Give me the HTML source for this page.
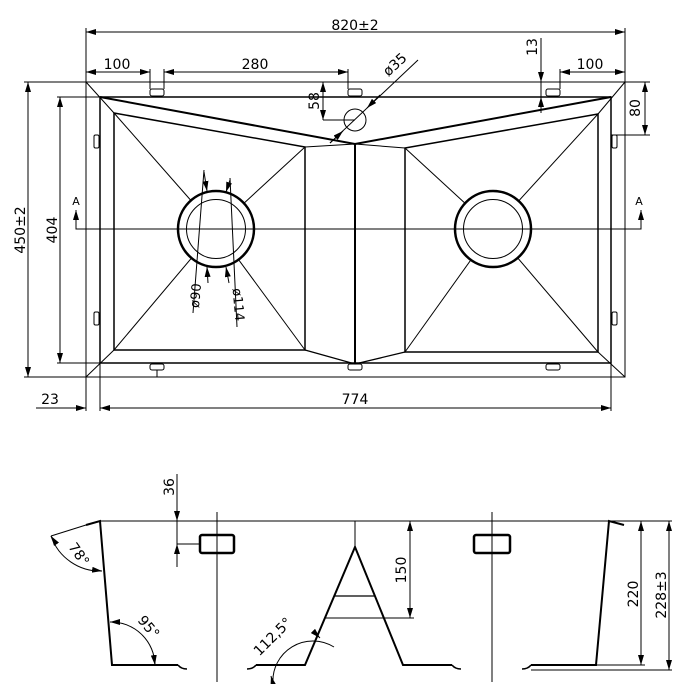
<!DOCTYPE html>
<html><head><meta charset="utf-8"><style>
html,body{margin:0;padding:0;background:#fff}
svg{display:block}
text{font-family:"DejaVu Sans","Liberation Sans",sans-serif;font-size:14px;fill:#000}
</style></head><body>
<svg width="690" height="684" viewBox="0 0 690 684" xmlns="http://www.w3.org/2000/svg">
<defs>
<marker id="a" viewBox="0 0 10 6" refX="10" refY="3" markerWidth="10" markerHeight="6" orient="auto-start-reverse" markerUnits="userSpaceOnUse"><path d="M0,0 L10,3 L0,6 z" fill="#000"/></marker>
</defs>
<g stroke="#000" fill="none" stroke-width="1">
<!-- TOP VIEW -->
<rect x="86" y="82" width="539" height="295"/>
<rect x="100" y="97" width="511" height="266" stroke-width="1.5"/>
<line x1="86" y1="82" x2="114" y2="113"/>
<line x1="625" y1="82" x2="598" y2="114"/>
<line x1="86" y1="377" x2="114" y2="350"/>
<line x1="625" y1="377" x2="598" y2="352"/>
<!-- flange top thick -->
<polyline points="100,97 355,144 611,97" stroke-width="2"/>
<!-- left bowl -->
<polygon points="114,113 305,147 305,350 114,350" stroke-width="1.5"/>
<polygon points="598,114 405,148 405,352 598,352" stroke-width="1.5"/>
<polyline points="305,147 355,144 405,148" />
<polyline points="305,350 355,364 405,352" stroke-width="1.3"/>
<line x1="355" y1="144" x2="355" y2="364" stroke-width="2"/>
<!-- bowl diagonals -->
<line x1="114" y1="113" x2="216" y2="229"/><line x1="305" y1="147" x2="216" y2="229"/>
<line x1="114" y1="350" x2="216" y2="229"/><line x1="305" y1="350" x2="216" y2="229"/>
<line x1="598" y1="114" x2="493" y2="229"/><line x1="405" y1="148" x2="493" y2="229"/>
<line x1="598" y1="352" x2="493" y2="229"/><line x1="405" y1="352" x2="493" y2="229"/>
<!-- drains -->
<circle cx="216" cy="229" r="38" fill="#fff" stroke-width="2.5"/>
<circle cx="216" cy="229" r="29.5"/>
<circle cx="493" cy="229" r="38" fill="#fff" stroke-width="2.5"/>
<circle cx="493" cy="229" r="29.5"/>
<!-- section line -->
<polyline points="76,210 76,229 641,229 641,210"/>
<line x1="76" y1="216" x2="76" y2="210" marker-end="url(#a)"/>
<line x1="641" y1="216" x2="641" y2="210" marker-end="url(#a)"/>
<!-- tabs -->
<rect x="150" y="89" width="14" height="7" rx="2"/>
<rect x="348" y="89" width="14" height="7" rx="2"/>
<rect x="546" y="89" width="14" height="7" rx="2"/>
<rect x="150" y="364" width="14" height="6" rx="2"/>
<rect x="348" y="364" width="14" height="6" rx="2"/>
<rect x="546" y="364" width="14" height="6" rx="2"/>
<line x1="157" y1="370" x2="157" y2="377"/>
<rect x="94" y="135" width="5" height="13" rx="1.5"/>
<rect x="94" y="312" width="5" height="13" rx="1.5"/>
<rect x="612" y="135" width="5" height="13" rx="1.5"/>
<rect x="612" y="312" width="5" height="13" rx="1.5"/>
<!-- hole -->
<circle cx="355" cy="120" r="11"/>
<line x1="330" y1="143" x2="418" y2="60"/>
<line x1="330" y1="143" x2="343" y2="131" marker-end="url(#a)"/>
<line x1="380" y1="95" x2="367" y2="108" marker-end="url(#a)"/>
<!-- 820 -->
<line x1="86" y1="28" x2="86" y2="82"/><line x1="625" y1="28" x2="625" y2="82"/>
<line x1="86" y1="32" x2="625" y2="32" marker-start="url(#a)" marker-end="url(#a)"/>
<!-- 100 280 100 -->
<line x1="150" y1="69" x2="150" y2="89"/><line x1="164" y1="69" x2="164" y2="89"/>
<line x1="348" y1="69" x2="348" y2="89"/><line x1="560" y1="69" x2="560" y2="89"/>
<line x1="86" y1="72" x2="150" y2="72" marker-start="url(#a)" marker-end="url(#a)"/>
<line x1="164" y1="72" x2="348" y2="72" marker-start="url(#a)" marker-end="url(#a)"/>
<line x1="560" y1="72" x2="625" y2="72" marker-start="url(#a)" marker-end="url(#a)"/>
<!-- 13 -->
<line x1="541" y1="38" x2="541" y2="82" marker-end="url(#a)"/>
<line x1="541" y1="113" x2="541" y2="97" marker-end="url(#a)"/>
<line x1="541" y1="82" x2="541" y2="97"/>
<!-- 58 -->
<line x1="323" y1="82" x2="323" y2="120" marker-start="url(#a)" marker-end="url(#a)"/>
<line x1="323" y1="120" x2="355" y2="120"/>
<!-- 80 -->
<line x1="611" y1="135" x2="650" y2="135"/><line x1="625" y1="82" x2="650" y2="82"/>
<line x1="645" y1="82" x2="645" y2="135" marker-start="url(#a)" marker-end="url(#a)"/>
<!-- 450 / 404 -->
<line x1="24" y1="82" x2="86" y2="82"/><line x1="24" y1="377" x2="86" y2="377"/>
<line x1="28" y1="82" x2="28" y2="377" marker-start="url(#a)" marker-end="url(#a)"/>
<line x1="57" y1="97" x2="100" y2="97"/><line x1="57" y1="363" x2="100" y2="363"/>
<line x1="60" y1="97" x2="60" y2="363" marker-start="url(#a)" marker-end="url(#a)"/>
<!-- 23 / 774 -->
<line x1="86" y1="377" x2="86" y2="411"/><line x1="100" y1="363" x2="100" y2="411"/>
<line x1="611" y1="363" x2="611" y2="411"/>
<line x1="36" y1="408" x2="86" y2="408" marker-end="url(#a)"/>
<line x1="100" y1="408" x2="611" y2="408" marker-start="url(#a)" marker-end="url(#a)"/>
<!-- dia leaders -->
<line x1="204" y1="170" x2="193" y2="313"/>
<line x1="230" y1="178" x2="237" y2="327"/>
<line x1="204" y1="172" x2="207" y2="191" marker-end="url(#a)"/>
<line x1="230" y1="180" x2="226" y2="192" marker-end="url(#a)"/>
<line x1="208" y1="283" x2="207" y2="267" marker-end="url(#a)"/>
<line x1="229" y1="283" x2="226" y2="267" marker-end="url(#a)"/>

<!-- SECTION VIEW -->
<line x1="100" y1="521" x2="672" y2="521"/>
<polyline points="86,525 100,521 112,665 178,665" stroke-width="2"/>
<path d="M178,665 Q181,669 187,669" stroke-width="1.5"/>
<polyline points="624,525 609,521 596,665 531,665" stroke-width="2"/>
<path d="M531,665 Q528,669 522,669" stroke-width="1.5"/>
<line x1="355" y1="521" x2="355" y2="547"/>
<polyline points="256,665 305,665 355,547 403,665 452,665" stroke-width="2"/>
<path d="M256,665 Q253,669 247,669 M452,665 Q455,669 461,669" stroke-width="1.5"/>
<line x1="334" y1="596" x2="374" y2="596" stroke-width="1.3"/>
<line x1="324" y1="618" x2="414" y2="618"/>
<line x1="410" y1="521" x2="410" y2="618" marker-start="url(#a)" marker-end="url(#a)"/>
<line x1="217" y1="512" x2="217" y2="682"/>
<line x1="492" y1="512" x2="492" y2="682"/>
<rect x="200" y="535" width="34" height="18" rx="2" stroke-width="2.5"/>
<rect x="474" y="535" width="36" height="18" rx="2" stroke-width="2.5"/>
<line x1="177" y1="474" x2="177" y2="521" marker-end="url(#a)"/>
<line x1="177" y1="567" x2="177" y2="544" marker-end="url(#a)"/>
<line x1="177" y1="521" x2="177" y2="544"/>
<line x1="177" y1="544" x2="200" y2="544"/>
<line x1="596" y1="665" x2="645" y2="665"/><line x1="531" y1="670" x2="672" y2="670"/>
<line x1="641" y1="521" x2="641" y2="665" marker-start="url(#a)" marker-end="url(#a)"/>
<line x1="669" y1="521" x2="669" y2="670" marker-start="url(#a)" marker-end="url(#a)"/>
<!-- angles -->
<line x1="51" y1="536" x2="86" y2="525"/>
<path d="M51,536 A52,52 0 0 0 102,571" />
<line x1="55" y1="542" x2="51" y2="536" marker-end="url(#a)"/>
<line x1="94" y1="570" x2="102" y2="571" marker-end="url(#a)"/>
<path d="M110,622 A44,44 0 0 1 155,665"/>
<line x1="118" y1="622" x2="110" y2="622" marker-end="url(#a)"/>
<line x1="154" y1="657" x2="155" y2="665" marker-end="url(#a)"/>
<path d="M273,684 A40,40 0 0 1 334,647"/>
<line x1="271" y1="676" x2="273" y2="684" marker-start="url(#a)"/>
<line x1="313" y1="631" x2="320" y2="638" marker-end="url(#a)"/>
</g>
<!-- text -->
<text x="355" y="30" text-anchor="middle">820±2</text>
<text x="117" y="69" text-anchor="middle">100</text>
<text x="255" y="69" text-anchor="middle">280</text>
<text x="590" y="69" text-anchor="middle">100</text>
<text transform="translate(537,47) rotate(-90)" text-anchor="middle">13</text>
<text transform="translate(319,101) rotate(-90)" text-anchor="middle">58</text>
<text transform="translate(640,108) rotate(-90)" text-anchor="middle">80</text>
<text transform="translate(398,68) rotate(-42)" text-anchor="middle">ø35</text>
<text transform="translate(25,230) rotate(-90)" text-anchor="middle">450±2</text>
<text transform="translate(57,230) rotate(-90)" text-anchor="middle">404</text>
<text x="50" y="404" text-anchor="middle">23</text>
<text x="355" y="404" text-anchor="middle">774</text>
<text x="76" y="205" text-anchor="middle" style="font-size:11px">A</text>
<text x="639" y="205" text-anchor="middle" style="font-size:11px">A</text>
<text transform="translate(200,296) rotate(-85)" text-anchor="middle" style="font-size:13px">ø90</text>
<text transform="translate(234,305) rotate(85)" text-anchor="middle" style="font-size:13px">ø114</text>
<text transform="translate(174,487) rotate(-90)" text-anchor="middle">36</text>
<text transform="translate(406,570) rotate(-90)" text-anchor="middle">150</text>
<text transform="translate(638,594) rotate(-90)" text-anchor="middle">220</text>
<text transform="translate(666,595) rotate(-90)" text-anchor="middle">228±3</text>
<text transform="translate(75,557) rotate(55)" text-anchor="middle">78°</text>
<text transform="translate(145,630) rotate(50)" text-anchor="middle">95°</text>
<text transform="translate(276,640) rotate(-45)" text-anchor="middle">112,5°</text>
</svg>
</body></html>
